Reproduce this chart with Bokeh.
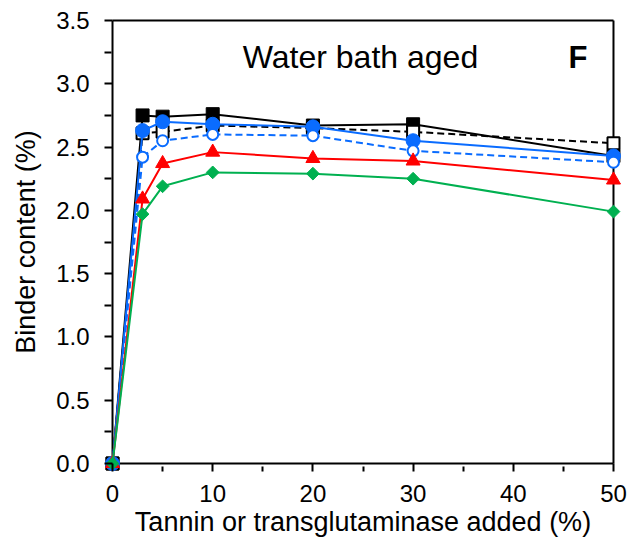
import math
from bokeh.plotting import figure
from bokeh.models import FixedTicker, NumeralTickFormatter, Range1d, Label
from bokeh.embed import file_html
from bokeh.resources import INLINE

x = [0, 3, 5, 10, 20, 30, 50]
black_filled = [0, 2.75, 2.74, 2.76, 2.67, 2.68, 2.43]
black_open = [0, 2.61, 2.62, 2.67, 2.65, 2.62, 2.53]
blue_filled = [0, 2.63, 2.70, 2.68, 2.66, 2.55, 2.43]
blue_open = [0, 2.42, 2.55, 2.60, 2.59, 2.47, 2.38]
red = [0, 2.09, 2.37, 2.46, 2.41, 2.39, 2.24]
green = [0, 1.97, 2.19, 2.30, 2.29, 2.25, 1.99]

x_ticks = [0, 10, 20, 30, 40, 50]
x_minor = [5, 15, 25, 35, 45]
y_ticks = [0, 0.5, 1.0, 1.5, 2.0, 2.5, 3.0, 3.5]
y_minor = [0.25, 0.75, 1.25, 1.75, 2.25, 2.75, 3.25]
X_MIN, X_MAX = 0, 50
Y_MIN, Y_MAX = 0, 3.5

FONT = "Liberation Sans"
BLUE = "#0A6CFF"
RED = "#FF0000"
GREEN = "#00B050"

# frame is 8px larger than the axes box on every side so edge markers are not clipped
p = figure(width=641, height=547, output_backend="svg", toolbar_location=None,
           x_range=Range1d(-0.8, 50.8), y_range=Range1d(-0.063, 3.563),
           min_border_left=104, min_border_right=20, min_border_top=12, min_border_bottom=76)
p.grid.visible = False
p.outline_line_color = None
p.background_fill_color = "white"
p.border_fill_color = "white"

p.xaxis.ticker = FixedTicker(ticks=x_ticks, minor_ticks=x_minor)
p.yaxis.ticker = FixedTicker(ticks=y_ticks, minor_ticks=y_minor)
p.yaxis.formatter = NumeralTickFormatter(format="0.0")
for ax in (p.xaxis[0], p.yaxis[0]):
    ax.axis_line_color = None
    ax.major_tick_line_width = 2
    ax.minor_tick_line_width = 2
    ax.major_tick_line_color = "black"
    ax.minor_tick_line_color = "black"
    ax.major_tick_out = 0
    ax.minor_tick_out = 0
    ax.major_label_text_font = FONT
    ax.major_label_text_font_size = "24px"
    ax.major_label_text_color = "black"
    ax.axis_label_text_font = FONT
    ax.axis_label_text_font_size = "27px"
    ax.axis_label_text_font_style = "normal"
    ax.axis_label_text_color = "black"
# ticks reach from the frame edge to the axes box
p.xaxis.major_tick_in = 8
p.xaxis.minor_tick_in = 5
p.yaxis.major_tick_in = 8
p.yaxis.minor_tick_in = 7
p.xaxis.major_label_standoff = 13
p.yaxis.major_label_standoff = 15
p.xaxis.axis_label = "Tannin or transglutaminase added (%)"
p.yaxis.axis_label = "Binder content (%)"
p.xaxis.axis_label_standoff = 2
p.yaxis.axis_label_standoff = 12

# axes box
p.segment(x0=[X_MIN, X_MIN, X_MIN, X_MAX], y0=[Y_MIN, Y_MIN, Y_MAX, Y_MIN],
          x1=[X_MAX, X_MIN, X_MAX, X_MAX], y1=[Y_MIN, Y_MAX, Y_MAX, Y_MAX],
          line_color="black", line_width=2)

# black filled squares
p.line(x, black_filled, line_color="black", line_width=2)
p.scatter(x, black_filled, marker="square", size=13, fill_color="black", line_color="black")
# black open squares dashed
p.line(x, black_open, line_color="black", line_width=2, line_dash="7 4")
p.scatter(x, black_open, marker="square", size=12, fill_color="white", line_color="black", line_width=2)
# blue filled circles
p.line(x, blue_filled, line_color=BLUE, line_width=2)
p.scatter(x, blue_filled, marker="circle", size=14, fill_color=BLUE, line_color=BLUE)
# blue open circles dashed
p.line(x, blue_open, line_color=BLUE, line_width=2, line_dash="7 4")
p.scatter(x, blue_open, marker="circle", size=11, fill_color="white", line_color=BLUE, line_width=2)
# red triangles
p.line(x, red, line_color=RED, line_width=2)
p.scatter(x, red, marker="triangle", size=14, fill_color=RED, line_color=RED)
# green diamonds
p.line(x, green, line_color=GREEN, line_width=2)
p.scatter(x, green, marker="square", angle=math.pi / 4, size=9, fill_color=GREEN, line_color=GREEN)

p.add_layout(Label(x=13.0, y=3.21, text="Water bath aged", text_font=FONT, text_font_size="32px",
                   text_baseline="middle", text_color="black"))
p.add_layout(Label(x=45.5, y=3.21, text="F", text_font=FONT, text_font_size="31px",
                   text_font_style="bold", text_baseline="middle", text_color="black"))

open("out.html", "w").write(file_html(p, INLINE))
